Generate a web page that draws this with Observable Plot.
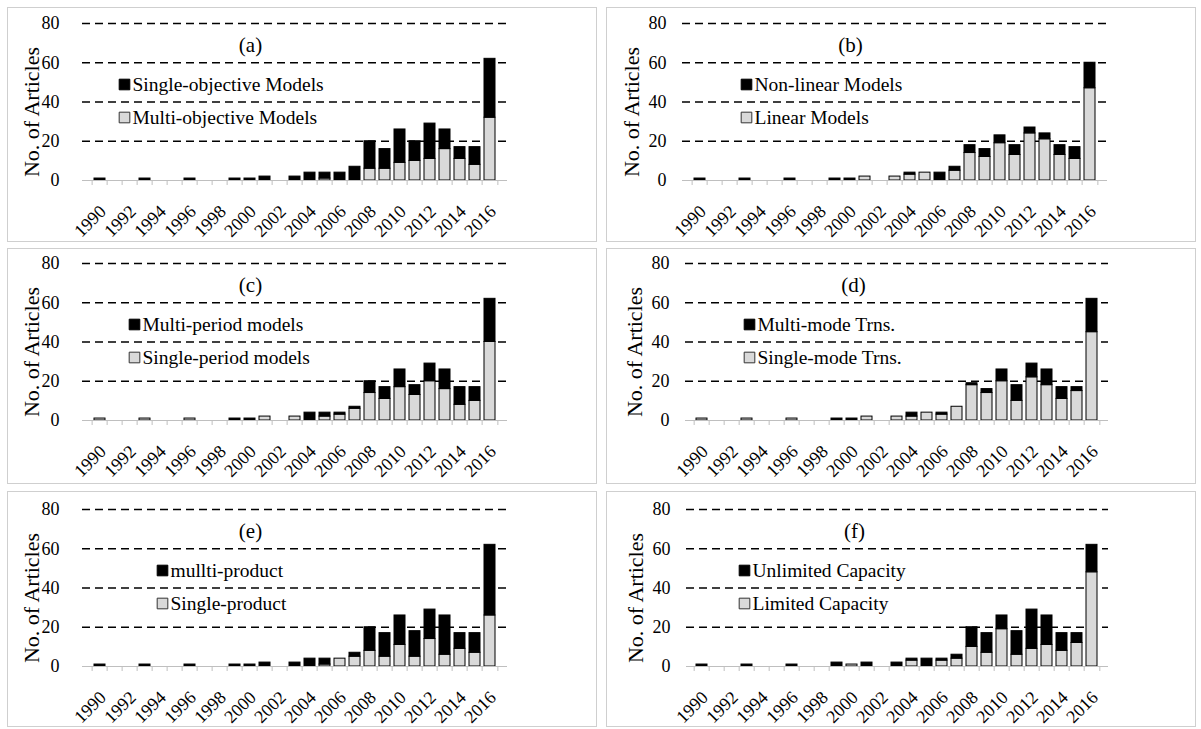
<!DOCTYPE html>
<html><head><meta charset="utf-8">
<script src="https://cdn.jsdelivr.net/npm/d3@7"></script>
<script src="https://cdn.jsdelivr.net/npm/@observablehq/plot@0.6"></script>
<style>
body{margin:0;background:#fff;}
#root{position:relative;width:1201px;height:729px;overflow:hidden;font-family:"Liberation Serif",serif;}
.panel{position:absolute;border:1px solid #cfcfcf;box-sizing:border-box;}
.chart{position:absolute;}
</style></head><body><div id="root"></div>
<script>
// ---------- data ----------
const years = [1990,1991,1992,1993,1994,1995,1996,1997,1998,1999,2000,2001,2002,2003,2004,2005,2006,2007,2008,2009,2010,2011,2012,2013,2014,2015,2016];
const yearLabels = [1990,1992,1994,1996,1998,2000,2002,2004,2006,2008,2010,2012,2014,2016];
const yTicks = [0,20,40,60,80];
const gridValues = [20,40,60,80];
const yTitle = "No. of Articles";
const panelTags = ["(a)","(b)","(c)","(d)","(e)","(f)"];
const blackNames = ["Single-objective Models","Non-linear Models","Multi-period models","Multi-mode Trns.","mullti-product","Unlimited Capacity"];
const grayNames  = ["Multi-objective Models","Linear Models","Single-period models","Single-mode Trns.","Single-product","Limited Capacity"];

// values per year (1990 ... 2016)
const aBlack = [1,0,0,1,0,0,1,0,0,1,1,2,0,2,4,3,4,7,14,10,17,10,18,10,6,9,30];
const aGray  = [0,0,0,0,0,0,0,0,0,0,0,0,0,0,0,1,0,0,6,6,9,10,11,16,11,8,32];
const bBlack = [1,0,0,1,0,0,1,0,0,1,1,0,0,0,1,0,4,2,4,4,4,5,3,3,5,6,13];
const bGray  = [0,0,0,0,0,0,0,0,0,0,0,2,0,2,3,4,0,5,14,12,19,13,24,21,13,11,47];
const cBlack = [0,0,0,0,0,0,0,0,0,1,1,0,0,0,4,2,1,1,6,6,9,5,9,10,9,7,22];
const cGray  = [1,0,0,1,0,0,1,0,0,0,0,2,0,2,0,2,3,6,14,11,17,13,20,16,8,10,40];
const dBlack = [0,0,0,0,0,0,0,0,0,1,1,0,0,0,2,0,1,0,1,2,6,8,7,8,6,2,17];
const dGray  = [1,0,0,1,0,0,1,0,0,0,0,2,0,2,2,4,3,7,18,14,20,10,22,18,11,15,45];
const eBlack = [1,0,0,1,0,0,1,0,0,1,1,2,0,2,4,3,0,2,12,12,15,13,15,20,8,10,36];
const eGray  = [0,0,0,0,0,0,0,0,0,0,0,0,0,0,0,1,4,5,8,5,11,5,14,6,9,7,26];
const fBlack = [1,0,0,1,0,0,1,0,0,2,0,2,0,2,1,4,1,2,10,10,7,12,20,15,9,5,14];
const fGray  = [0,0,0,0,0,0,0,0,0,0,1,0,0,0,3,0,3,4,10,7,19,6,9,11,8,12,48];

const blackSeries = [aBlack,bBlack,cBlack,dBlack,eBlack,fBlack];
const graySeries  = [aGray,bGray,cGray,dGray,eGray,fGray];

// ---------- layout ----------
const layout = [
  {left:7,   top:7,   w:590, h:235, ml:75, mr:90, mt:16, mb:62, tp:23, lx:42},
  {left:606, top:7,   w:590, h:235, ml:76, mr:89, mt:16, mb:62, tp:16, lx:64},
  {left:7,   top:248, w:590, h:236, ml:75, mr:90, mt:15, mb:64, tp:23, lx:52},
  {left:606, top:248, w:590, h:236, ml:79, mr:88, mt:15, mb:64, tp:16, lx:64},
  {left:7,   top:491, w:590, h:236, ml:75, mr:90, mt:18, mb:61, tp:23, lx:80},
  {left:606, top:491, w:590, h:236, ml:80, mr:88, mt:18, mb:61, tp:16, lx:58}
];

const root = document.getElementById("root");
const FONT = '"Liberation Serif", "Times New Roman", serif';

layout.forEach((cfg, p) => {
  const blackName = blackNames[p], grayName = grayNames[p];
  const black = blackSeries[p], gray = graySeries[p];
  const rows = [];
  years.forEach((y, i) => { if (gray[i] > 0) rows.push({year: y, series: grayName, value: gray[i]}); });
  years.forEach((y, i) => { if (black[i] > 0) rows.push({year: y, series: blackName, value: black[i]}); });
  const pw = cfg.w - cfg.ml - cfg.mr;
  const step = pw / years.length;

  const chart = Plot.plot({
    width: cfg.w, height: cfg.h,
    marginLeft: cfg.ml, marginRight: cfg.mr, marginTop: cfg.mt, marginBottom: cfg.mb,
    style: {fontFamily: FONT, color: "#000", background: "transparent", overflow: "visible"},
    x: {type: "band", domain: years, paddingInner: 0.25, paddingOuter: 0.125, axis: null, label: null},
    y: {domain: [0, 80], axis: null, label: null},
    color: {domain: [grayName, blackName], range: ["#d9d9d9", "#000000"]},
    marks: [
      Plot.ruleY(gridValues, {stroke: "#000", strokeWidth: 1.4, strokeDasharray: "8,5"}),
      Plot.barY(rows, {x: "year", y: "value", fill: "series", stroke: "#000", strokeWidth: 1}),
      Plot.ruleY([0], {stroke: "#bfbfbf", strokeWidth: 1.2}),
      Plot.axisX(years, {text: null, tickSize: 5, dx: -step / 2, stroke: "#bfbfbf", label: null}),
      Plot.axisX([years[years.length - 1]], {text: null, tickSize: 5, dx: step / 2, stroke: "#bfbfbf", label: null}),
      Plot.axisX(yearLabels, {tickSize: 0, tickRotate: -45, tickPadding: 28, dx: 3, fontSize: 18, tickFormat: d => String(d), label: null}),
      Plot.axisY(yTicks, {tickSize: 0, tickPadding: cfg.tp, fontSize: 18, label: null}),
      Plot.text([yTitle], {text: d => d, frameAnchor: "left", textAnchor: "middle", lineAnchor: "middle", rotate: -90, dx: -51, dy: 10, fontSize: 22}),
      Plot.text([panelTags[p]], {text: d => d, frameAnchor: "top-left", dx: 168, dy: 22, fontSize: 21, textAnchor: "middle", lineAnchor: "middle"}),
      Plot.dot([blackName], {frameAnchor: "top-left", dx: cfg.lx, dy: 61, symbol: "square", r: 6, fill: "#000", stroke: "#000", strokeWidth: 1}),
      Plot.text([blackName], {text: d => d, frameAnchor: "top-left", dx: cfg.lx + 8, dy: 61, fontSize: 19.5, textAnchor: "start", lineAnchor: "middle"}),
      Plot.dot([grayName], {frameAnchor: "top-left", dx: cfg.lx, dy: 94, symbol: "square", r: 6, fill: "#d9d9d9", stroke: "#333", strokeWidth: 1}),
      Plot.text([grayName], {text: d => d, frameAnchor: "top-left", dx: cfg.lx + 8, dy: 94, fontSize: 19.5, textAnchor: "start", lineAnchor: "middle"})
    ]
  });

  const box = document.createElement("div");
  box.className = "panel";
  Object.assign(box.style, {left: cfg.left + "px", top: cfg.top + "px", width: cfg.w + "px", height: cfg.h + "px"});
  root.appendChild(box);

  chart.classList.add("chart");
  chart.style.left = cfg.left + "px";
  chart.style.top = cfg.top + "px";
  root.appendChild(chart);
});
</script>
</body></html>
